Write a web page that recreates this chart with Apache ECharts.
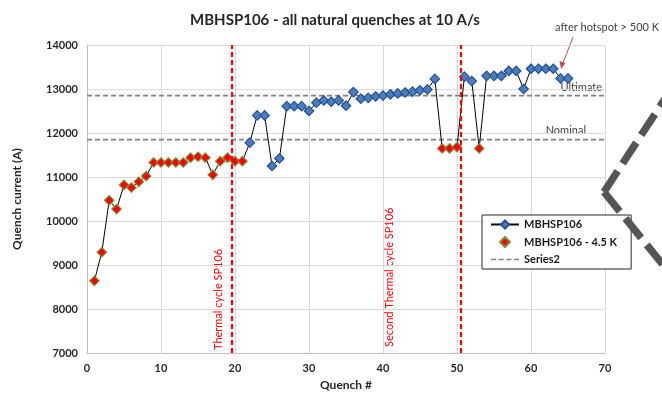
<!DOCTYPE html>
<html>
<head>
<meta charset="utf-8">
<script src="https://cdn.jsdelivr.net/npm/echarts@6/dist/echarts.min.js"></script>
<style>
  html, body { margin: 0; padding: 0; background: #fff; }
  #chart { width: 662px; height: 396px; }
</style>
</head>
<body>
<div id="chart"></div>
<script>
// quench number -> quench current (A)
var quenchCurrent = [
  8640, 9290, 10470, 10270, 10820, 10760, 10890, 11020, 11330, 11330,
  11330, 11330, 11330, 11440, 11460, 11440, 11050, 11360, 11440, 11360,
  11360, 11780, 12400, 12400, 11250, 11420, 12610, 12610, 12610, 12500,
  12690, 12740, 12710, 12740, 12620, 12930, 12780, 12800, 12830, 12850,
  12880, 12900, 12920, 12940, 12970, 12990, 13230, 11650, 11650, 11680,
  13280, 13180, 11650, 13300, 13300, 13300, 13410, 13410, 13000, 13460,
  13460, 13460, 13460, 13240, 13240
];
// quenches done at 4.5 K (red markers)
var coldQuenches = [1, 2, 3, 4, 5, 6, 7, 8, 9, 10, 11, 12, 13, 14, 15, 16, 17, 18, 19, 20, 21, 48, 49, 50, 53];
var ultimateCurrent = 12850;
var nominalCurrent = 11850;
var thermalCycles = [19.5, 50.5];
var xTicks = { min: 0, max: 70, step: 10 };
var yTicks = { min: 7000, max: 14000, step: 1000 };

var font = "Lato, 'Liberation Sans', sans-serif";

var mainData = quenchCurrent.map(function (v, i) {
  var n = i + 1;
  if (coldQuenches.indexOf(n) >= 0) return { value: [n, v], symbol: 'none' };
  return [n, v];
});
var coldData = coldQuenches.map(function (n) {
  return [n, quenchCurrent[n - 1]];
});

var chart = echarts.init(document.getElementById('chart'));

var dashIcon = 'path://M0,0h5v1.6H0z M7.5,0h5v1.6h-5z M15,0h5v1.6h-5z M22.5,0h5v1.6h-5z';

// stray dashed chevron at the right edge (decoration from the source slide)
function dashedArm(x0, y0, x1, y1, dash, gap) {
  var len = Math.hypot(x1 - x0, y1 - y0);
  var ux = (x1 - x0) / len, uy = (y1 - y0) / len;
  var out = [];
  for (var s = 0; s < len; s += dash + gap) {
    var e = Math.min(s + dash, len);
    out.push({
      type: 'polygon', zlevel: 2, z: 100,
      shape: {
        points: [
          [x0 + ux * s - uy * 3.7, y0 + uy * s + ux * 3.7],
          [x0 + ux * e - uy * 3.7, y0 + uy * e + ux * 3.7],
          [x0 + ux * e + uy * 3.7, y0 + uy * e - ux * 3.7],
          [x0 + ux * s + uy * 3.7, y0 + uy * s - ux * 3.7]
        ]
      },
      style: { fill: '#555555' }
    });
  }
  return out;
}
var chevron = dashedArm(604, 192, 672, 88, 25, 9).concat(dashedArm(604, 192, 672, 276, 25, 9));

var option = {
  animation: false,
  textStyle: { fontFamily: font },
  title: {
    text: 'MBHSP106 - all natural quenches at 10 A/s',
    left: 330,
    top: 8,
    textAlign: 'center',
    textStyle: { fontFamily: font, fontSize: 15, fontWeight: 'bold', color: '#262626' }
  },
  grid: { left: 87, right: 57, top: 45, bottom: 42 },
  legend: {
    left: 482,
    top: 215,
    orient: 'vertical',
    backgroundColor: '#fff',
    borderColor: '#262626',
    borderWidth: 1,
    padding: [4, 14, 4, 8],
    itemGap: 6,
    itemWidth: 28,
    itemHeight: 10,
    textStyle: { fontFamily: font, fontSize: 11, fontWeight: 'bold', color: '#1a1a1a' },
    data: [
      'MBHSP106',
      { name: 'MBHSP106 - 4.5 K', icon: 'path://M5,0L10,5L5,10L0,5Z' },
      { name: 'Series2', icon: dashIcon, itemStyle: { color: '#808080' } }
    ]
  },
  xAxis: {
    type: 'value',
    min: xTicks.min,
    max: xTicks.max,
    interval: xTicks.step,
    name: 'Quench #',
    nameLocation: 'middle',
    nameGap: 26,
    nameTextStyle: { fontFamily: font, fontSize: 12, fontWeight: 'bold', color: '#262626' },
    axisLine: { lineStyle: { color: '#bfbfbf' } },
    axisTick: { show: false },
    axisLabel: { fontFamily: font, fontSize: 11, fontWeight: 'bold', color: '#262626', margin: 10 },
    splitLine: { lineStyle: { color: '#d9d9d9' } }
  },
  yAxis: {
    type: 'value',
    min: yTicks.min,
    max: yTicks.max,
    interval: yTicks.step,
    name: 'Quench current (A)',
    nameLocation: 'middle',
    nameGap: 64,
    nameTextStyle: { fontFamily: font, fontSize: 12, fontWeight: 'bold', color: '#262626' },
    axisLine: { show: true, lineStyle: { color: '#bfbfbf' } },
    axisTick: { show: false },
    axisLabel: {
      fontFamily: font, fontSize: 11, fontWeight: 'bold', color: '#262626', margin: 9,
      formatter: function (v) { return String(v); }
    },
    splitLine: { lineStyle: { color: '#d9d9d9' } }
  },
  series: [
    {
      name: 'Series2',
      type: 'line',
      symbol: 'none',
      data: [[xTicks.min, ultimateCurrent], [xTicks.max, ultimateCurrent]],
      lineStyle: { color: '#808080', width: 1.8, type: [5, 3] },
      itemStyle: { color: '#808080' },
      z: 1
    },
    {
      name: 'Series2',
      type: 'line',
      symbol: 'none',
      data: [[xTicks.min, nominalCurrent], [xTicks.max, nominalCurrent]],
      lineStyle: { color: '#808080', width: 1.8, type: [5, 3] },
      itemStyle: { color: '#808080' },
      z: 1
    },
    {
      name: 'MBHSP106',
      type: 'line',
      symbol: 'diamond',
      symbolSize: 9.5,
      data: mainData,
      lineStyle: { color: '#000', width: 1 },
      itemStyle: { color: '#4a7cc0', borderColor: '#24528c', borderWidth: 1.2 },
      markLine: {
        symbol: 'none',
        silent: true,
        label: { show: false },
        lineStyle: { color: '#ff0000', width: 2.2, type: [5, 3] },
        data: thermalCycles.map(function (x) { return { xAxis: x }; })
      },
      z: 3
    },
    {
      name: 'MBHSP106 - 4.5 K',
      type: 'scatter',
      symbol: 'diamond',
      symbolSize: 9.5,
      data: coldData,
      itemStyle: { color: '#ff0000', borderColor: '#76923c', borderWidth: 1.2, opacity: 1 },
      z: 4
    }
  ],
  graphic: [
    {
      type: 'text', x: 218, y: 350, rotation: Math.PI / 2,
      style: { text: 'Thermal cycle SP106', fill: '#ff0000', font: '11px ' + font, textVerticalAlign: 'middle' }
    },
    {
      type: 'text', x: 389, y: 347, rotation: Math.PI / 2,
      style: { text: 'Second Thermal cycle SP106', fill: '#ff0000', font: '11px ' + font, textVerticalAlign: 'middle' }
    },
    {
      type: 'text', x: 602, y: 93,
      style: { text: 'Ultimate', fill: '#404040', font: '11px ' + font, textAlign: 'right', textVerticalAlign: 'bottom' }
    },
    {
      type: 'text', x: 586, y: 136,
      style: { text: 'Nominal', fill: '#404040', font: '11px ' + font, textAlign: 'right', textVerticalAlign: 'bottom' }
    },
    {
      type: 'text', x: 555, y: 27,
      style: { text: 'after hotspot > 500 K', fill: '#404040', font: '11px ' + font, textVerticalAlign: 'middle' }
    },
    {
      type: 'line', shape: { x1: 573, y1: 37, x2: 563, y2: 63 },
      style: { stroke: '#c0504d', lineWidth: 1 }
    },
    {
      type: 'polygon', shape: { points: [[561, 69], [559.5, 61], [565.5, 63]] },
      style: { fill: '#c0504d' }
    }
  ].concat(chevron)
};

chart.setOption(option);
</script>
</body>
</html>
